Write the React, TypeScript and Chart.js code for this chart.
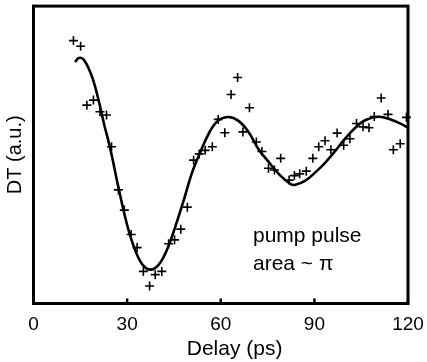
import React, { useEffect, useRef } from 'react';
import { Chart, registerables } from 'chart.js';

Chart.register(...registerables);

// Measured pump-probe data (delay in ps, DT in arbitrary units)
const delayPs = [
  12.8, 15.1, 17.1, 19.2, 21.3, 23.4, 25.0, 27.2, 29.1, 31.3,
  33.2, 35.2, 37.2, 39.0, 41.1, 43.3, 45.2, 47.2, 49.3, 51.3,
  53.1, 55.0, 57.3, 59.2, 61.3, 63.3, 65.4, 67.1, 69.2, 71.4,
  73.2, 75.3, 77.2, 79.2, 81.9, 83.6, 85.3, 87.4, 89.5, 91.4,
  93.4, 95.3, 97.3, 99.4, 101.4, 103.5, 105.6, 107.5, 109.2, 111.4,
  113.6, 115.3, 117.5, 119.5,
];
const dtMeasured = [
  0.879, 0.860, 0.662, 0.679, 0.640, 0.629, 0.522, 0.377, 0.309, 0.227,
  0.183, 0.103, 0.054, 0.092, 0.103, 0.196, 0.209, 0.245, 0.319, 0.477,
  0.498, 0.510, 0.522, 0.614, 0.569, 0.698, 0.755, 0.572, 0.653, 0.538,
  0.506, 0.450, 0.444, 0.483, 0.410, 0.425, 0.431, 0.440, 0.483, 0.522,
  0.542, 0.512, 0.568, 0.527, 0.549, 0.600, 0.589, 0.586, 0.624, 0.686,
  0.631, 0.512, 0.532, 0.621,
];

// Fitted curve
const fitDelayPs = [
  13.3, 14.4, 15.5, 16.5, 17.6, 18.7, 19.7, 20.8, 21.9, 22.9,
  24.0, 25.1, 27.2, 29.9, 32.0, 34.7, 37.4, 40.0, 42.7, 45.4,
  48.1, 50.8, 53.4, 56.6, 59.3, 62.5, 65.7, 68.9, 72.1, 75.9,
  79.1, 82.3, 83.9, 87.1, 90.3, 93.5, 96.7, 99.9, 103.2, 106.4,
  110.6, 114.4, 117.6, 120.0,
];
const fitDt = [
  0.807, 0.820, 0.820, 0.809, 0.787, 0.759, 0.726, 0.681, 0.631, 0.586,
  0.542, 0.492, 0.386, 0.263, 0.191, 0.129, 0.109, 0.124, 0.174, 0.252,
  0.341, 0.435, 0.503, 0.575, 0.611, 0.622, 0.609, 0.572, 0.514, 0.464,
  0.425, 0.397, 0.394, 0.408, 0.436, 0.469, 0.508, 0.550, 0.587, 0.612,
  0.623, 0.614, 0.600, 0.586,
];

const xTickValues = [0, 30, 60, 90, 120];
const xTitle = 'Delay (ps)';
const yTitle = 'DT (a.u.)';
const annotationLines = ['pump pulse', 'area ~ π'];

const FONT = '"Liberation Sans", Arial, Helvetica, sans-serif';

export default function App() {
  const ref = useRef<HTMLCanvasElement>(null);

  useEffect(() => {
    document.body.style.margin = '0';
    const canvas = ref.current;
    if (!canvas) return;

    const framePlugin = {
      id: 'frameAndNotes',
      afterDatasetsDraw(chart: any) {
        const { ctx, chartArea: a, scales } = chart;
        const w = a.right - a.left;
        const h = a.bottom - a.top;
        ctx.save();
        ctx.strokeStyle = '#000';
        ctx.lineWidth = 2.5;
        const xs = scales.x;
        xTickValues.forEach((v) => {
          const p = xs.getPixelForValue(v);
          ctx.beginPath();
          ctx.moveTo(p, a.bottom);
          ctx.lineTo(p, a.bottom - 5);
          ctx.stroke();
        });
        ctx.lineWidth = 3;
        ctx.strokeRect(a.left, a.top, w, h);
        ctx.fillStyle = '#000';
        // annotation
        ctx.font = `21px ${FONT}`;
        ctx.textAlign = 'left';
        ctx.textBaseline = 'alphabetic';
        const tx = a.left + w * 0.586;
        const ty = a.top + h * 0.794;
        annotationLines.forEach((t, i) => ctx.fillText(t, tx, ty + i * 27.6));
        // x axis title
        ctx.font = `21px ${FONT}`;
        ctx.textAlign = 'center';
        ctx.textBaseline = 'middle';
        ctx.fillText(xTitle, a.left + w * 0.537, a.bottom + 46);
        ctx.restore();
      },
    };

    const chart = new Chart(canvas, {
      type: 'scatter',
      data: {
        datasets: [
          {
            type: 'line',
            data: fitDelayPs.map((x, i) => ({ x, y: fitDt[i] })),
            borderColor: '#000',
            borderWidth: 2.6,
            pointRadius: 0,
            tension: 0.4,
            fill: false,
          } as any,
          {
            type: 'scatter',
            data: delayPs.map((x, i) => ({ x, y: dtMeasured[i] })),
            pointStyle: 'cross',
            pointRadius: 4.5,
            borderColor: '#000',
            backgroundColor: '#000',
            borderWidth: 1.6,
            clip: false,
          } as any,
        ],
      },
      options: {
        responsive: false,
        animation: false,
        layout: { padding: { top: 3.5, right: 19, left: 0, bottom: 0 } },
        plugins: { legend: { display: false }, tooltip: { enabled: false } },
        scales: {
          x: {
            type: 'linear',
            min: 0,
            max: 120,
            afterBuildTicks: (s: any) => {
              s.ticks = xTickValues.map((v) => ({ value: v }));
            },
            afterFit: (s: any) => {
              s.height = 58.5;
              s.paddingLeft = 0;
              s.paddingRight = 0;
            },
            grid: { display: false, drawTicks: false },
            border: { display: false },
            ticks: {
              color: '#000',
              font: { family: FONT, size: 19 },
              padding: 10,
              maxRotation: 0,
            },
            title: { display: false },
          },
          y: {
            type: 'linear',
            min: -0.005,
            max: 0.995,
            afterFit: (s: any) => {
              s.width = 33.5;
            },
            grid: { display: false, drawTicks: false },
            border: { display: false },
            ticks: { display: false },
            title: {
              display: true,
              text: yTitle,
              color: '#000',
              font: { family: FONT, size: 20 },
              padding: { top: 3, bottom: 0 },
            },
          },
        },
      },
      plugins: [framePlugin],
    });

    return () => chart.destroy();
  }, []);

  return (
    <div style={{ width: 427, height: 362 }}>
      <canvas ref={ref} width={427} height={362} />
    </div>
  );
}
